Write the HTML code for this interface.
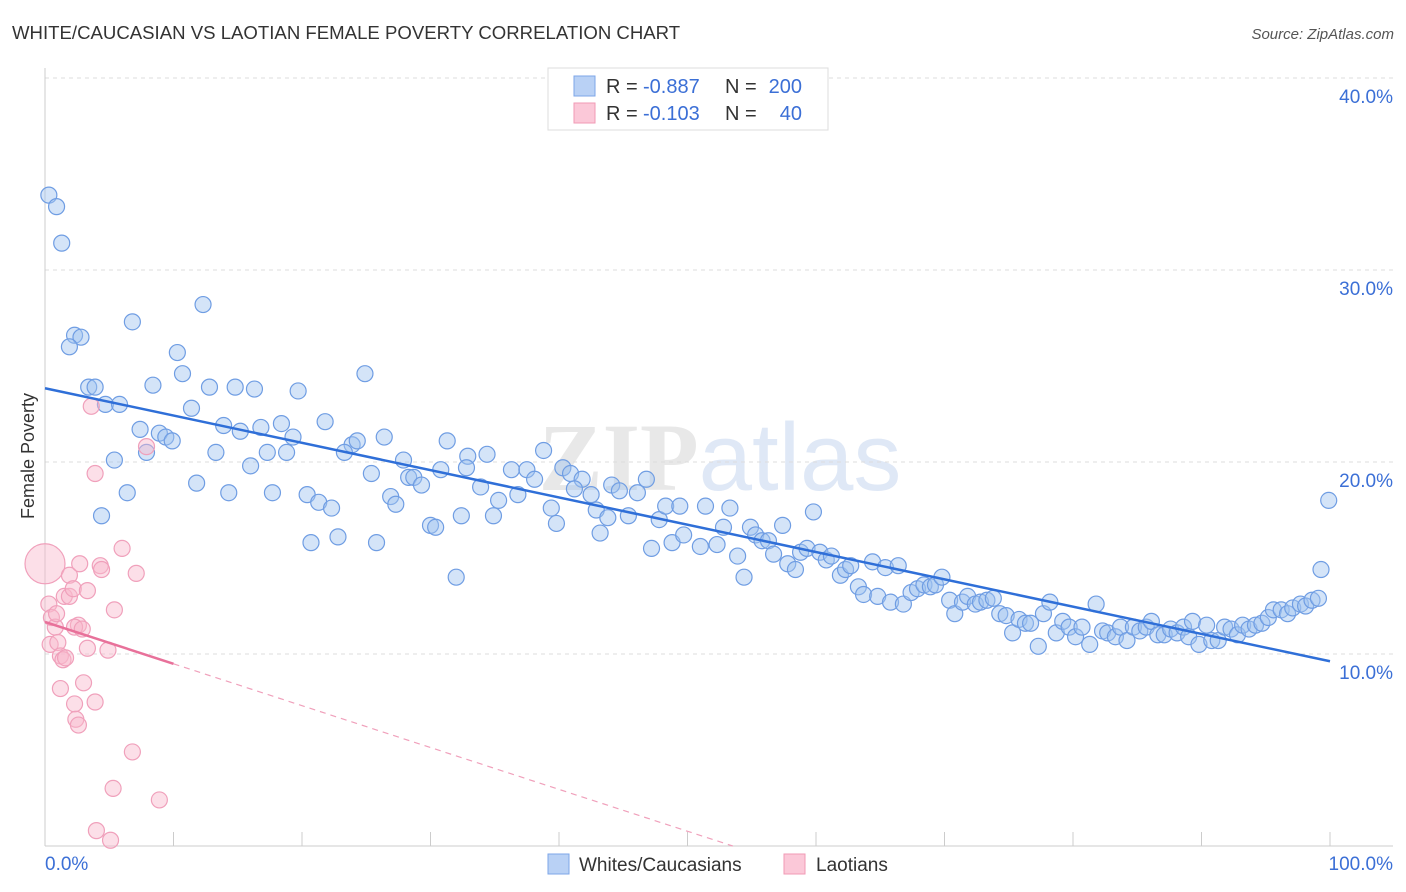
<!DOCTYPE html>
<html><head><meta charset="utf-8"><style>
body{margin:0;background:#fff;font-family:"Liberation Sans",sans-serif;}
svg{display:block}
</style></head><body>
<svg width="1406" height="892" xmlns="http://www.w3.org/2000/svg" id="chart">
<text x="12" y="39" font-size="18.6" fill="#333">WHITE/CAUCASIAN VS LAOTIAN FEMALE POVERTY CORRELATION CHART</text>
<text x="1394" y="39" font-size="15" fill="#555" text-anchor="end" font-style="italic">Source: ZipAtlas.com</text>
<text x="720" y="490" font-size="96" text-anchor="middle" fill="#e8e8e8" font-family="Liberation Serif"><tspan font-weight="bold">ZIP</tspan><tspan fill="#dfe8f6" font-family="Liberation Sans">atlas</tspan></text>
<text transform="translate(34,456) rotate(-90)" font-size="18" fill="#333" text-anchor="middle">Female Poverty</text>
<g id="grid"></g><g id="axes"></g><g id="marks"></g>
<g>
<rect x="548" y="68" width="280" height="62" fill="#fff" stroke="#ddd"/>
<rect x="574" y="76" width="21" height="20" fill="#b9d1f5" stroke="#7da6e8"/>
<rect x="574" y="103" width="21" height="20" fill="#fbc8d8" stroke="#f09ab5"/>
<text x="606" y="93" font-size="20" fill="#333">R =</text>
<text x="643" y="93" font-size="20" fill="#3b6fd6">-0.887</text>
<text x="725" y="93" font-size="20" fill="#333">N =</text>
<text x="802" y="93" font-size="20" fill="#3b6fd6" text-anchor="end">200</text>
<text x="606" y="120" font-size="20" fill="#333">R =</text>
<text x="643" y="120" font-size="20" fill="#3b6fd6">-0.103</text>
<text x="725" y="120" font-size="20" fill="#333">N =</text>
<text x="802" y="120" font-size="20" fill="#3b6fd6" text-anchor="end">40</text>
</g>
<g>
<rect x="548" y="854" width="21" height="20" fill="#b9d1f5" stroke="#7da6e8"/>
<text x="579" y="871" font-size="19" fill="#333">Whites/Caucasians</text>
<rect x="784" y="854" width="21" height="20" fill="#fbc8d8" stroke="#f09ab5"/>
<text x="816" y="871" font-size="19" fill="#333">Laotians</text>
</g>
</svg>
<script>
const blueX=[0.3,0.9,1.3,2.3,2.8,1.9,6.8,12.3,10.3,3.4,3.9,4.7,5.8,8.4,10.7,12.8,14.8,16.3,19.7,24.9,11.4,13.9,15.2,16.8,18.4,21.8,7.4,8.9,9.4,9.9,7.9,5.4,13.3,16.0,17.3,18.8,19.3,23.9,24.3,23.3,26.4,31.3,27.9,30.8,32.9,34.4,32.8,36.3,37.5,38.8,40.3,40.9,41.8,11.8,14.3,17.7,20.4,21.3,22.3,25.4,26.9,27.3,28.3,28.7,29.3,33.9,35.3,36.8,38.1,41.2,42.5,44.1,44.7,46.1,46.8,6.4,4.4,20.7,22.8,25.8,30.0,30.4,32.4,34.9,39.4,39.8,42.9,43.2,43.8,45.4,47.8,48.3,49.4,47.2,48.8,49.7,51.0,51.4,52.3,52.8,53.3,53.9,54.4,54.9,55.3,55.8,56.3,56.7,57.4,57.8,58.4,58.8,59.3,59.8,60.3,60.8,61.2,61.9,62.3,62.7,63.3,63.7,64.4,64.8,65.4,65.8,66.4,66.8,67.4,67.9,68.4,68.9,69.3,69.8,70.4,70.8,71.4,71.8,72.4,72.8,73.3,73.8,74.3,74.8,75.3,75.8,76.3,76.7,77.3,77.7,78.2,78.7,79.2,79.7,80.2,80.7,81.3,81.8,82.3,82.7,83.3,83.7,84.2,84.7,85.2,85.7,86.1,86.6,87.1,87.6,88.1,88.6,89.0,89.3,89.8,90.4,90.8,91.3,91.8,92.3,92.8,93.2,93.7,94.2,94.7,95.2,95.6,96.2,96.7,97.1,97.7,98.1,98.6,99.1,99.3,99.9,32.0];
const blueY=[33.9,33.3,31.4,26.6,26.5,26.0,27.3,28.2,25.7,23.9,23.9,23.0,23.0,24.0,24.6,23.9,23.9,23.8,23.7,24.6,22.8,21.9,21.6,21.8,22.0,22.1,21.7,21.5,21.3,21.1,20.5,20.1,20.5,19.8,20.5,20.5,21.3,20.9,21.1,20.5,21.3,21.1,20.1,19.6,20.3,20.4,19.7,19.6,19.6,20.6,19.7,19.4,19.1,18.9,18.4,18.4,18.3,17.9,17.6,19.4,18.2,17.8,19.2,19.2,18.8,18.7,18.0,18.3,19.1,18.6,18.3,18.8,18.5,18.4,19.1,18.4,17.2,15.8,16.1,15.8,16.7,16.6,17.2,17.2,17.6,16.8,17.5,16.3,17.1,17.2,17.0,17.7,17.7,15.5,15.8,16.2,15.6,17.7,15.7,16.6,17.6,15.1,14.0,16.6,16.2,15.9,15.9,15.2,16.7,14.7,14.4,15.3,15.5,17.4,15.3,14.9,15.1,14.1,14.4,14.6,13.5,13.1,14.8,13.0,14.5,12.7,14.6,12.6,13.2,13.4,13.6,13.5,13.6,14.0,12.8,12.1,12.7,13.0,12.6,12.7,12.8,12.9,12.1,12.0,11.1,11.8,11.6,11.6,10.4,12.1,12.7,11.1,11.7,11.4,10.9,11.4,10.5,12.6,11.2,11.1,10.9,11.4,10.7,11.4,11.2,11.4,11.7,11.0,11.0,11.3,11.1,11.4,10.9,11.7,10.5,11.5,10.7,10.7,11.4,11.3,11.0,11.5,11.3,11.5,11.6,11.9,12.3,12.3,12.1,12.4,12.6,12.5,12.8,12.9,14.4,18.0,14.0];
const pinkX=[0,0.3,0.5,0.8,0.4,1.0,1.2,1.2,1.4,1.6,1.9,1.5,1.9,2.2,2.3,2.4,2.6,2.7,2.6,3.0,3.3,3.3,3.6,3.9,3.9,4.3,4.4,4.0,4.9,5.1,5.4,5.3,6.0,6.8,7.1,7.9,8.9,0.9,2.3,2.9];
const pinkY=[14.7,12.6,11.9,11.4,10.5,10.6,8.2,9.9,9.7,9.8,14.1,13.0,13.0,13.4,7.4,6.6,6.3,14.7,11.5,8.5,10.3,13.3,22.9,19.4,7.5,14.6,14.4,0.8,10.2,0.3,12.3,3.0,15.5,4.9,14.2,20.8,2.4,12.1,11.4,11.3];
const yTicks=[10,20,30,40];
const xTickVals=[0,10,20,30,40,50,60,70,80,90,100];
const pinkSolidEnd=10;
const NS="http://www.w3.org/2000/svg";
const X=v=>45+v*12.85, Y=v=>846-v*19.2;
function mk(t,a,p){const e=document.createElementNS(NS,t);for(const k in a)e.setAttribute(k,a[k]);p.appendChild(e);return e;}
const grid=document.getElementById('grid'),axes=document.getElementById('axes'),marks=document.getElementById('marks');
yTicks.forEach(v=>{
 const l=mk('line',{x1:45,x2:1393,y1:Y(v),y2:Y(v),stroke:'#ddd','stroke-dasharray':'4,4'},grid);
 
 
 const t=mk('text',{x:1393,y:Y(v)+25,'font-size':19,fill:'#3b6fd6','text-anchor':'end'},axes);
 t.textContent=v.toFixed(1)+'%';
 
 
});
const ax=mk('line',{x1:45,x2:45,y1:68,y2:846,stroke:'#ccc'},axes);


const bx=mk('line',{x1:45,x2:1393,y1:846,y2:846,stroke:'#ccc'},axes);


xTickVals.forEach(v=>{
 const l=mk('line',{x1:X(v),x2:X(v),y1:832,y2:846,stroke:'#ccc'},axes);
 
 
});
[[0,'0.0%','start',45],[100,'100.0%','end',1393]].forEach(d=>{
 const t=mk('text',{x:d[3],y:870,'font-size':19,fill:'#3b6fd6','text-anchor':d[2]},axes);
 t.textContent=d[1];
 
 
});
function fit(xs,ys){const n=xs.length;let mx=0,my=0;for(let i=0;i<n;i++){mx+=xs[i];my+=ys[i];}mx/=n;my/=n;let sxy=0,sxx=0;for(let i=0;i<n;i++){sxy+=(xs[i]-mx)*(ys[i]-my);sxx+=(xs[i]-mx)**2;}const b=sxy/sxx;return [my-b*mx,b];}
blueX.forEach((v,i)=>{
 const c=mk('circle',{cx:X(v),cy:Y(blueY[i]),r:8,fill:'rgba(160,195,240,0.45)',stroke:'#6f9de3','stroke-width':1.2},marks);
 
 
});
pinkX.forEach((v,i)=>{
 const c=mk('circle',{cx:X(v),cy:Y(pinkY[i]),r:i===0?20:8,fill:'rgba(248,185,205,0.45)',stroke:'#f0a0bb','stroke-width':1.2},marks);
 
 
});
const [ba,bb]=fit(blueX,blueY);
const bl=mk('line',{x1:X(0),y1:Y(ba),x2:X(100),y2:Y(ba+bb*100),stroke:'#2f6fd8','stroke-width':2.5},marks);


const [pa,pb]=fit(pinkX,pinkY);
const xmax=pinkSolidEnd;
const pl=mk('line',{x1:X(0),y1:Y(pa),x2:X(xmax),y2:Y(pa+pb*xmax),stroke:'#e8719a','stroke-width':2.5},marks);


const xz=pb<0?Math.min(100,-pa/pb):100;
const pd=mk('line',{x1:X(xmax),y1:Y(pa+pb*xmax),x2:X(xz),y2:Y(pa+pb*xz),stroke:'#f0a0bb','stroke-width':1.2,'stroke-dasharray':'6,5'},marks);


</script>
</body></html>
